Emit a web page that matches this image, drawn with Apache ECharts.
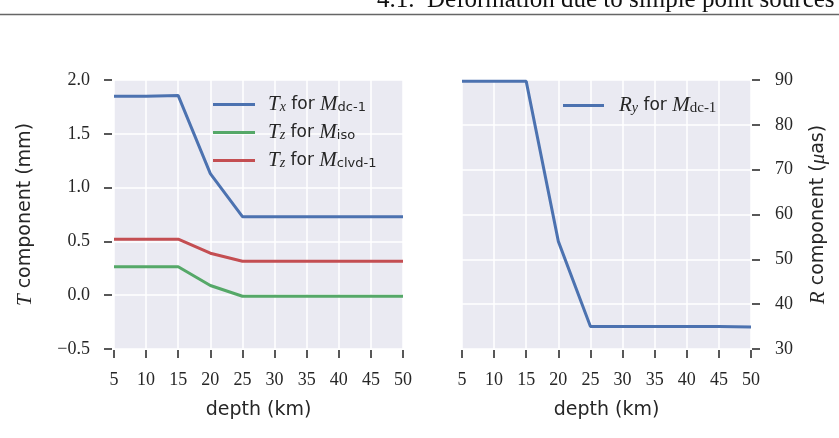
<!DOCTYPE html>
<html>
<head>
<meta charset="utf-8">
<script src="https://cdn.jsdelivr.net/npm/echarts@6/dist/echarts.min.js"></script>
<style>
  html, body { margin: 0; padding: 0; background: #fff; }
</style>
</head>
<body>
<div id="chart" style="width: 839px; height: 438px"></div>
<script>
const depth = [5, 10, 15, 20, 25, 30, 35, 40, 45, 50]
const txDc = [1.85, 1.85, 1.855, 1.13, 0.73, 0.73, 0.73, 0.73, 0.73, 0.73]
const tzIso = [0.265, 0.265, 0.265, 0.09, -0.01, -0.01, -0.01, -0.01, -0.01, -0.01]
const tzClvd = [0.52, 0.52, 0.52, 0.39, 0.315, 0.315, 0.315, 0.315, 0.315, 0.315]
const ryDc = [89.7, 89.7, 89.7, 54, 35, 35, 35, 35, 35, 34.9]

const serif = '"Liberation Serif", serif'
const sans = '"DejaVu Sans", sans-serif'
const textColor = '#262626'
const bg = '#EAEAF2'

const blue = '#4C72B0'
const green = '#55A868'
const red = '#C44E52'

function pairs(ys) {
  return depth.map((d, i) => [d, ys[i]])
}

const mathRich = {
  g: { width: 8 },
  g2: { width: 10 },
  i: { fontFamily: serif, fontStyle: 'italic', fontSize: 21, lineHeight: 20 },
  si: { fontFamily: serif, fontStyle: 'italic', fontSize: 14, lineHeight: 10, verticalAlign: 'bottom' },
  s: { fontFamily: sans, fontSize: 13, lineHeight: 10, verticalAlign: 'bottom' },
  sr: { fontFamily: serif, fontSize: 15, lineHeight: 10, verticalAlign: 'bottom' },
  f: { fontFamily: sans, fontSize: 17, lineHeight: 20 },
}

const legendText = {
  'Tx dc': '{g|}{i|T}{si|x}{f| for }{i|M}{s|dc-1}',
  'Tz iso': '{g|}{i|T}{si|z}{f| for }{i|M}{s|iso}',
  'Tz clvd': '{g|}{i|T}{si|z}{f| for }{i|M}{s|clvd-1}',
  'Ry dc': '{g2|}{i|R}{si|y}{f| for }{i|M}{sr|dc-1}',
}

function xAxisFor(gridIndex) {
  return {
    type: 'value',
    gridIndex,
    min: 5,
    max: 50,
    interval: 5,
    offset: 1,
    name: 'depth (km)',
    nameLocation: 'middle',
    nameGap: 51,
    nameTextStyle: { fontFamily: sans, fontSize: 19, color: textColor },
    axisLine: { show: false, onZero: false },
    axisTick: { show: true, length: 8, lineStyle: { color: '#222', width: 1.5 } },
    axisLabel: { margin: 21, fontFamily: serif, fontSize: 18, color: textColor },
    splitLine: { show: true, lineStyle: { color: '#fff', width: 1.5 } },
  }
}

const chart = echarts.init(document.getElementById('chart'))

const option = {
  animation: false,
  graphic: [
    {
      type: 'line',
      shape: { x1: 0, y1: 14.5, x2: 839, y2: 14.5 },
      style: { stroke: '#666', lineWidth: 1.5 },
    },
    {
      type: 'text',
      left: 377,
      top: -12,
      style: { text: '4.1.', font: '25px "Liberation Serif", serif', fill: '#111' },
    },
    {
      type: 'text',
      left: 427,
      top: -12,
      style: { text: 'Deformation due to simple point sources', font: '25px "Liberation Serif", serif', fill: '#111' },
    },
  ],
  grid: [
    { left: 114, top: 80, width: 289, height: 269, show: true, backgroundColor: bg, borderWidth: 0 },
    { left: 462, top: 80, width: 289, height: 269, show: true, backgroundColor: bg, borderWidth: 0 },
  ],
  legend: [
    {
      data: ['Tx dc', 'Tz iso', 'Tz clvd'],
      left: 213,
      top: 94,
      padding: 0,
      orient: 'vertical',
      itemWidth: 42,
      itemHeight: 3,
      itemGap: 7,
      icon: 'rect',
      formatter: name => legendText[name],
      textStyle: { color: textColor, rich: mathRich },
    },
    {
      data: ['Ry dc'],
      left: 563,
      top: 95,
      padding: 0,
      orient: 'vertical',
      itemWidth: 41,
      itemHeight: 3,
      icon: 'rect',
      formatter: name => legendText[name],
      textStyle: { color: textColor, rich: mathRich },
    },
  ],
  xAxis: [xAxisFor(0), xAxisFor(1)],
  yAxis: [
    {
      type: 'value',
      gridIndex: 0,
      min: -0.5,
      max: 2.0,
      interval: 0.5,
      offset: 2,
      name: '{i|T} component (mm)',
      nameLocation: 'middle',
      nameRotate: 90,
      nameGap: 77,
      nameTextStyle: { fontFamily: sans, fontSize: 19, color: textColor, rich: mathRich },
      axisLine: { show: false, onZero: false },
      axisTick: { show: true, length: 8, lineStyle: { color: '#222', width: 1.5 } },
      axisLabel: {
        margin: 22,
        fontFamily: serif,
        fontSize: 18,
        color: textColor,
        formatter: v => v.toFixed(1).replace('-', '\u2212'),
      },
      splitLine: { show: true, lineStyle: { color: '#fff', width: 1.5 } },
    },
    {
      type: 'value',
      gridIndex: 1,
      position: 'right',
      min: 30,
      max: 90,
      interval: 10,
      offset: 1,
      name: '{i|R} component ({i|\u03bc}as)',
      nameLocation: 'middle',
      nameRotate: 90,
      nameGap: 56,
      nameTextStyle: { fontFamily: sans, fontSize: 19, color: textColor, rich: mathRich },
      axisLine: { show: false, onZero: false },
      axisTick: { show: true, length: 8, lineStyle: { color: '#222', width: 1.5 } },
      axisLabel: { margin: 23, fontFamily: serif, fontSize: 18, color: textColor },
      splitLine: { show: true, lineStyle: { color: '#fff', width: 1.5 } },
    },
  ],
  series: [
    { name: 'Tx dc', type: 'line', xAxisIndex: 0, yAxisIndex: 0, data: pairs(txDc), color: blue },
    { name: 'Tz iso', type: 'line', xAxisIndex: 0, yAxisIndex: 0, data: pairs(tzIso), color: green },
    { name: 'Tz clvd', type: 'line', xAxisIndex: 0, yAxisIndex: 0, data: pairs(tzClvd), color: red },
    { name: 'Ry dc', type: 'line', xAxisIndex: 1, yAxisIndex: 1, data: pairs(ryDc), color: blue },
  ].map(s => ({
    ...s,
    symbol: 'none',
    lineStyle: { width: 3, color: s.color },
    itemStyle: { color: s.color },
  })),
}

chart.setOption(option)
</script>
</body>
</html>
